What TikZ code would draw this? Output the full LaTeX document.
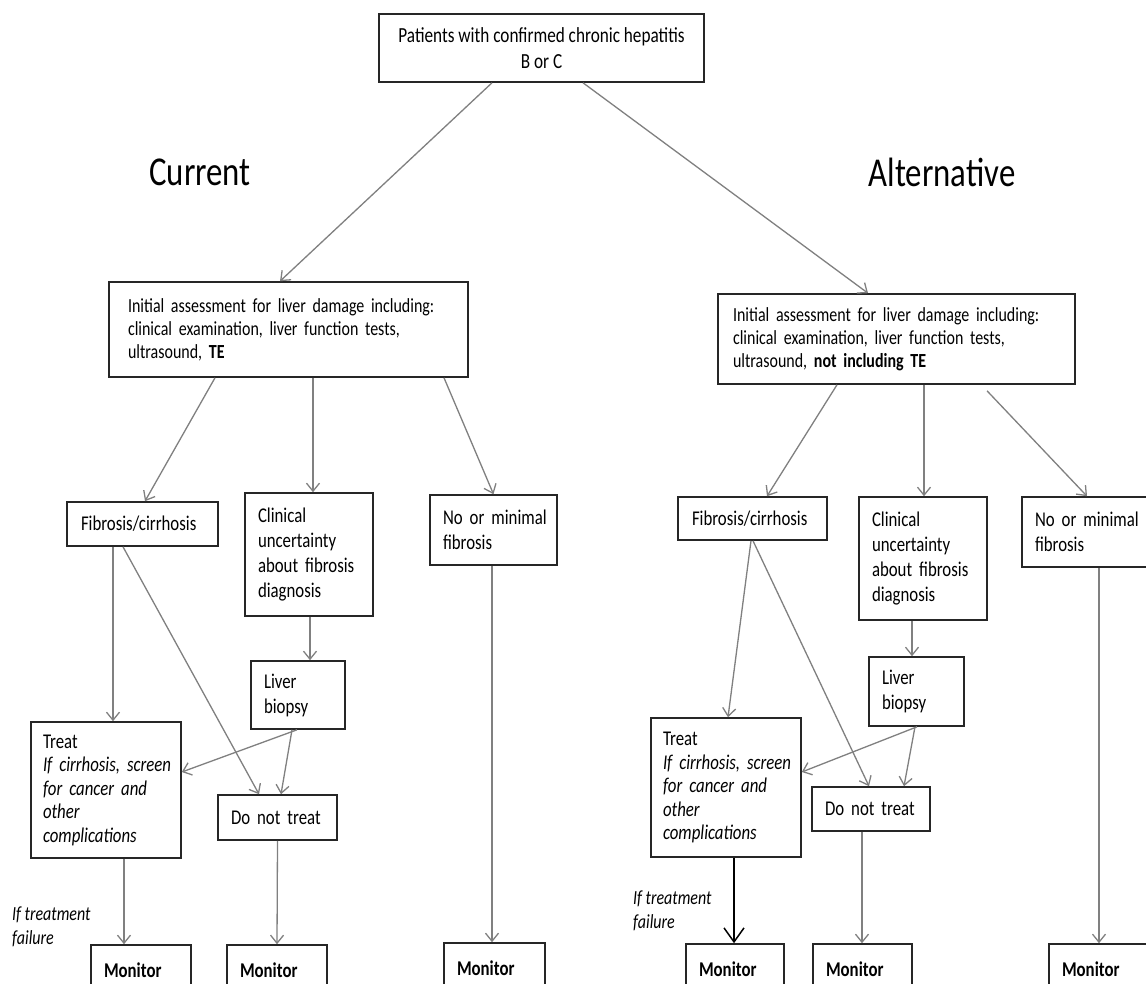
\documentclass[tikz,border=0pt]{standalone}
\usepackage{fontspec}
\setmainfont{Carlito}[FakeStretch=0.8]
\usetikzlibrary{arrows.meta}

\begin{document}
\begin{tikzpicture}[x=1pt,y=-1pt,
    lpad/.style={execute at begin node={\leftskip=#1}},
    box/.style={draw=black!85, line width=1.6pt, inner xsep=0pt, inner ysep=0pt, align=left, lpad=13pt, font=\fontsize{21}{25}\selectfont},
    mon/.style={box, minimum height=50pt, font=\fontsize{21}{25}\selectfont\bfseries},
    conn/.style={draw=black!50, line width=1.3pt, -{Straight Barb[length=8pt,width=13pt]}},
    side/.style={font=\fontsize{41}{46}\selectfont},
    note/.style={font=\fontsize{20}{24}\selectfont\itshape, align=left, anchor=west, inner sep=0pt}]
    \useasboundingbox (0,0) rectangle (1146,984);
    \clip (0,0) rectangle (1146,984);
    \fill[white] (0,0) rectangle (1146,984);

    \node[box, align=center, lpad=0pt, minimum width=325pt, minimum height=68pt, font=\fontsize{21.5}{26}\selectfont] (top) at (541.5,48) {Patients with confirmed chronic hepatitis\\B or C};
    \node[side] (cur) at (200,172) {Current};
    \node[side] (alt) at (942,172) {Alternative};

    \node[box, lpad=19pt, text width=359pt, minimum height=95pt, font=\fontsize{20}{23}\selectfont] (initL) at (288.5,329.5) {Initial assessment for liver damage including:\\clinical examination, liver function tests,\\ultrasound, \textbf{TE}};
    \node[box, lpad=15pt, text width=357pt, minimum height=90pt, font=\fontsize{20}{23}\selectfont] (initR) at (896.5,339) {Initial assessment for liver damage including:\\clinical examination, liver function tests,\\ultrasound, \textbf{not including TE}};

    \node[box, lpad=14pt, text width=151pt, minimum height=44pt] (fibL) at (142.5,524) {Fibrosis/cirrhosis};
    \node[box, text width=128pt, minimum height=123pt] (clinL) at (309,554.5) {Clinical\\uncertainty\\about fibrosis\\diagnosis};
    \node[box, text width=127pt, minimum height=70pt] (noL) at (493.5,530) {No or minimal\\fibrosis};
    \node[box, text width=94pt, minimum height=68pt] (livL) at (298,695) {Liver\\biopsy};
    \node[box, lpad=12pt, text width=150pt, minimum height=136pt, font=\fontsize{21}{23.5}\selectfont] (treatL) at (106,790) {Treat\\\textit{If cirrhosis, screen}\\\textit{for cancer and}\\\textit{other}\\\textit{complications}};
    \node[box, text width=119pt, minimum height=45pt] (dntL) at (277.5,817.5) {Do not treat};
    \node[mon, text width=100pt] (monA) at (141,970) {Monitor};
    \node[mon, text width=100pt] (monB) at (277,970) {Monitor};
    \node[mon, text width=101pt] (monC) at (494.5,968) {Monitor};
    \node[note] (failL) at (12,927) {If treatment\\failure};

    \node[box, lpad=14pt, text width=149pt, minimum height=43pt] (fibR) at (752.5,518.5) {Fibrosis/cirrhosis};
    \node[box, text width=128pt, minimum height=123pt] (clinR) at (923,558.5) {Clinical\\uncertainty\\about fibrosis\\diagnosis};
    \node[box, text width=128pt, minimum height=70pt] (noR) at (1086,532) {No or minimal\\fibrosis};
    \node[box, text width=95pt, minimum height=69pt] (livR) at (916.5,691.5) {Liver\\biopsy};
    \node[box, lpad=12pt, text width=150pt, minimum height=139pt, font=\fontsize{21}{23.5}\selectfont] (treatR) at (726,787.5) {Treat\\\textit{If cirrhosis, screen}\\\textit{for cancer and}\\\textit{other}\\\textit{complications}};
    \node[box, text width=118pt, minimum height=44pt] (dntR) at (871,809) {Do not treat};
    \node[mon, text width=98pt] (monD) at (735,969) {Monitor};
    \node[mon, text width=99pt] (monE) at (862.5,969) {Monitor};
    \node[mon, text width=101pt] (monF) at (1099.5,969) {Monitor};
    \node[note] (failR) at (633,911) {If treatment\\failure};

    \draw[conn] ([xshift=-49.5pt]top.south) -- ([xshift=-8.5pt]initL.north);
    \draw[conn] ([xshift=41.5pt]top.south) -- ([xshift=-28.5pt]initR.north);

    \draw[conn] ([xshift=-73.5pt]initL.south) -- ([xshift=2.5pt]fibL.north);
    \draw[conn] ([xshift=24.5pt]initL.south) -- ([xshift=4pt]clinL.north);
    \draw[conn] ([xshift=155.5pt]initL.south) -- (noL.north);
    \draw[conn] ([xshift=-29.5pt]fibL.south) -- ([xshift=7pt]treatL.north);
    \draw[conn] ([xshift=-19.5pt]fibL.south) -- ([xshift=-18.5pt]dntL.north);
    \draw[conn] ([xshift=1pt]clinL.south) -- ([xshift=12pt]livL.north);
    \draw[conn] ([xshift=-1pt]livL.south) -- ([yshift=18pt]treatL.east);
    \draw[conn] ([xshift=-6pt]livL.south) -- ([xshift=3.5pt]dntL.north);
    \draw[conn] ([xshift=18pt]treatL.south) -- ([xshift=-17pt]monA.north);
    \draw[conn] (dntL.south) -- (monB.north);
    \draw[conn] ([xshift=-1.5pt]noL.south) -- ([xshift=-2.5pt]monC.north);

    \draw[conn] ([xshift=-59.5pt]initR.south) -- ([xshift=14.5pt]fibR.north);
    \draw[conn] ([xshift=27.5pt]initR.south) -- ([xshift=1pt]clinR.north);
    \draw[conn] ([xshift=90.5pt,yshift=-6pt]initR.south) -- ([xshift=1pt]noR.north);
    \draw[conn] ([xshift=-1.5pt]fibR.south) -- ([xshift=2pt]treatR.north);
    \draw[conn] ([xshift=0.5pt]fibR.south) -- ([xshift=-2pt]dntR.north);
    \draw[conn] ([xshift=-11pt]clinR.south) -- ([xshift=-4.5pt]livR.north);
    \draw[conn] ([xshift=0.5pt]livR.south) -- ([yshift=15.5pt]treatR.east);
    \draw[conn] ([xshift=-1.5pt]livR.south) -- ([xshift=33pt]dntR.north);
    \draw[conn, draw=black, line width=1.5pt, -{Straight Barb[length=14pt,width=20pt]}] ([xshift=8pt]treatR.south) -- ([xshift=-1pt]monD.north);
    \draw[conn] ([xshift=-9pt]dntR.south) -- ([xshift=-0.5pt]monE.north);
    \draw[conn] ([xshift=13pt]noR.south) -- ([xshift=-0.5pt]monF.north);
\end{tikzpicture}
\end{document}
